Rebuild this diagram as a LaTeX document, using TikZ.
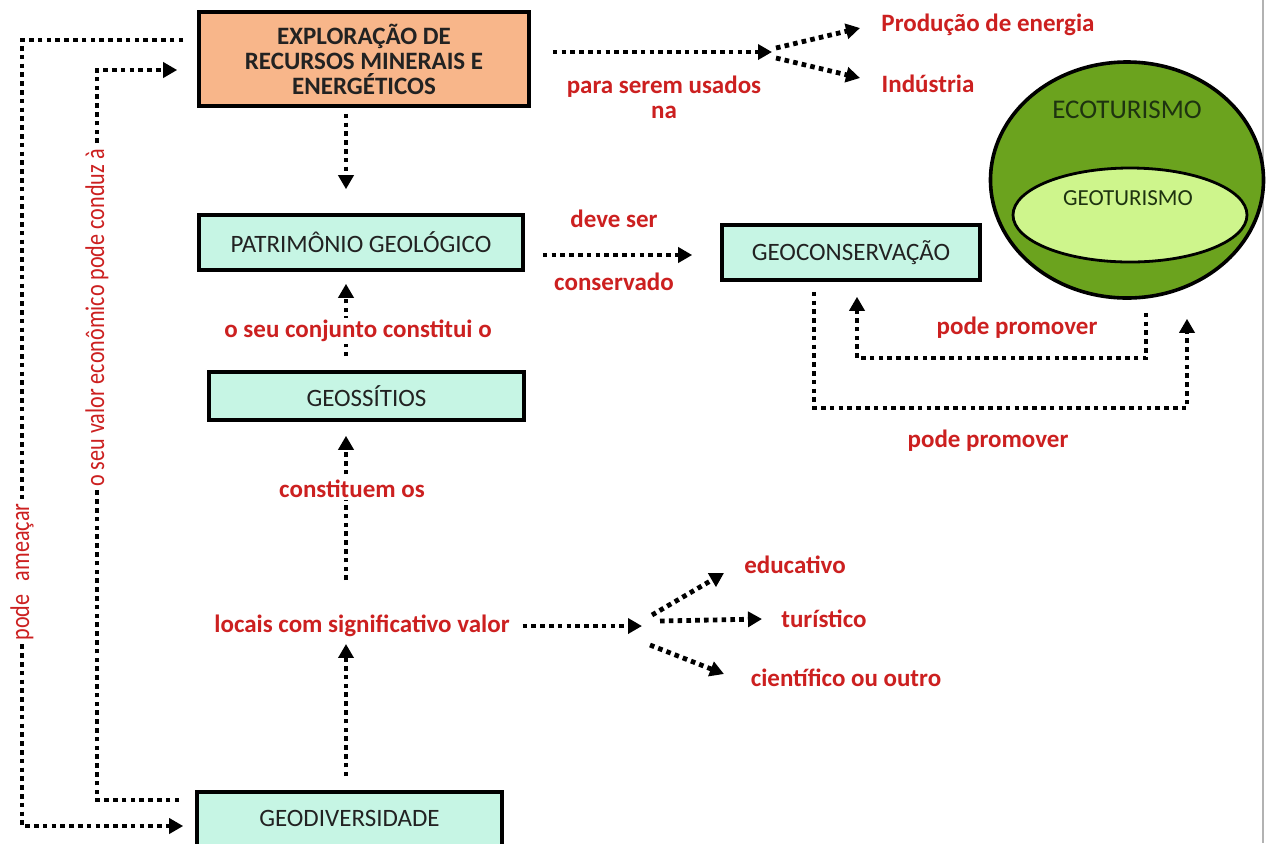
\documentclass[tikz,border=0pt]{standalone}
\usepackage{fontspec}
\setmainfont{Carlito}
\newfontfamily\narrowfont{Carlito}[FakeStretch=0.82]
\usetikzlibrary{arrows.meta,shapes.geometric}
\definecolor{lbl}{HTML}{CC2020}
\definecolor{peach}{HTML}{F8B68A}
\definecolor{mint}{HTML}{C6F5E4}
\definecolor{ecog}{HTML}{6BA31E}
\definecolor{geog}{HTML}{CEF58C}
\definecolor{txt}{HTML}{222222}
\definecolor{ecotxt}{HTML}{1E3310}
\begin{document}
\begin{tikzpicture}[x=0.5pt,y=-0.5pt,
  box/.style={draw=black, line width=1.8pt, inner sep=0pt, text=txt,
    font=\fontsize{12.5}{12.5}\selectfont},
  dl/.style={line width=2.4pt, dash pattern=on 2.3pt off 2.1pt,
    -{Triangle[length=7pt,width=7.5pt]}},
  lab/.style={text=lbl, font=\bfseries\fontsize{12.5}{12.5}\selectfont},
  side/.style={text=lbl, font=\narrowfont\fontsize{13.5}{13.5}\selectfont, fill=white,
    inner sep=1pt, rotate=90}
]
\useasboundingbox (0,0) rectangle (1275,843);
\clip (0,0) rectangle (1275,843);
\fill[white] (0,0) rectangle (1275,843);
\draw[gray!60, line width=1pt] (1263,0) -- (1263,843);

% boxes
\node[box, fill=peach, minimum width=165pt, minimum height=47pt, align=center,
  font=\bfseries\fontsize{12.5}{12.5}\selectfont] (expl) at (364,59)
  {EXPLORAÇÃO DE\\RECURSOS MINERAIS E\\ENERGÉTICOS};
\node[box, fill=mint, minimum width=162pt, minimum height=27.5pt] (pat) at (361,242.5) {PATRIMÔNIO GEOLÓGICO};
\node[box, fill=mint, minimum width=157.5pt, minimum height=24pt] (geos) at (366.5,396) {GEOSSÍTIOS};
\node[box, fill=mint, minimum width=129pt, minimum height=27.5pt] (geoc) at (851,252.5) {GEOCONSERVAÇÃO};
\node[box, fill=mint, minimum width=152.5pt, minimum height=30pt] (geod) at (349.5,822) {\raisebox{3.5pt}{GEODIVERSIDADE}};

% ellipses
\node[ellipse, draw=black, line width=1.8pt, fill=ecog, minimum width=136.5pt, minimum height=118pt, inner sep=0pt] (eco) at (1127,180) {};
\node[text=ecotxt, font=\fontsize{13.5}{13.5}\selectfont] (ecot) at (1127,110) {ECOTURISMO};
\node[ellipse, draw=black, line width=1.4pt, fill=geog, minimum width=117pt, minimum height=47pt, inner sep=0pt] (geot) at (1130,215) {};
\node[text=ecotxt, font=\fontsize{11.5}{11.5}\selectfont] (geott) at (1128,198) {GEOTURISMO};

% labels
\node[lab] (prod) at (988,25) {Produção de energia};
\node[lab] (ind) at (928,84) {Indústria};
\node[lab, align=center] (psu) at (664,97) {para serem usados\\na};
\node[lab] (deve) at (614,219) {deve ser};
\node[lab] (cons) at (614,282) {conservado};
\node[lab] (locais) at (362,626) {locais com significativo valor};
\node[lab] (edu) at (795,565) {educativo};
\node[lab] (tur) at (824,619) {turístico};
\node[lab] (cie) at (846,678) {científico ou outro};

% coordinates
\coordinate (col) at (346,0);
\coordinate (rowA) at (0,255);
\coordinate (fk) at (772,52);
\coordinate (fk1) at (776,48);
\coordinate (tp1) at (860,28);
\coordinate (fk2) at (776,58);
\coordinate (tp2) at (860,78);
\coordinate (lf) at (642,626);
\coordinate (e1) at (652,615);
\coordinate (e2) at (724,573);
\coordinate (t1) at (660,621);
\coordinate (t2) at (762,619);
\coordinate (s1) at (650,645);
\coordinate (s2) at (724,674);
\coordinate (c1) at (1146,358);
\coordinate (c2) at (857,358);
\coordinate (c3) at (814,408);
\coordinate (c4) at (1187,408);
\coordinate (a1) at (22,40);
\coordinate (a2) at (22,826);
\coordinate (b1) at (97,800);
\coordinate (b2) at (97,70);

% connectors
\draw[dl, shorten <=11pt] (expl.east |- fk) -- (fk);
\draw[dl] (fk1) -- (tp1);
\draw[dl] (fk2) -- (tp2);
\draw[dl, shorten <=3pt, shorten >=12pt] (expl.south -| col) -- (pat.north -| col);
\draw[dl, shorten <=9pt, shorten >=14pt] (pat.east |- rowA) -- (geoc.west |- rowA);
\draw[dl, shorten <=7pt, shorten >=6pt] (geos.north -| col) -- (pat.south -| col);
\draw[dl, shorten <=14pt, shorten >=7pt] (locais.north -| col) -- (geos.south -| col);
\draw[dl, shorten <=7pt, shorten >=0pt] (geod.north -| col) -- (locais.south -| col);
\draw[dl, shorten <=3pt] (locais.east) -- (lf);
\draw[dl] (e1) -- (e2);
\draw[dl] (t1) -- (t2);
\draw[dl] (s1) -- (s2);
\draw[dl, shorten <=6.5pt, shorten >=7.5pt] (eco.south -| c1) -- (c1) -- (c2) -- (geoc.south -| c2);
\draw[dl, shorten <=5pt, shorten >=9.5pt] (geoc.south -| c3) -- (c3) -- (c4) -- (eco.south -| c4);
\draw[dl, shorten <=7pt, shorten >=6pt] (expl.west |- a1) -- (a1) -- (a2) -- (geod.west |- a2);
\draw[dl, shorten <=8pt, shorten >=10pt] (geod.west |- b1) -- (b1) -- (b2) -- (expl.west |- b2);

% labels on lines
\node[lab, fill=white, inner sep=1pt] (conj) at (358,331) {o seu conjunto constitui o};
\node[lab, fill=white, inner sep=1pt] (const) at (352,489) {constituem os};
\node[lab] (pp1) at (1017,328) {pode promover};
\node[lab] (pp2) at (988,441) {pode promover};
\node[side] (ameaca) at (22,572) {pode\enspace ameaçar};
\node[side] (valor) at (97,318) {o seu valor econômico pode conduz à};
\end{tikzpicture}
\end{document}
